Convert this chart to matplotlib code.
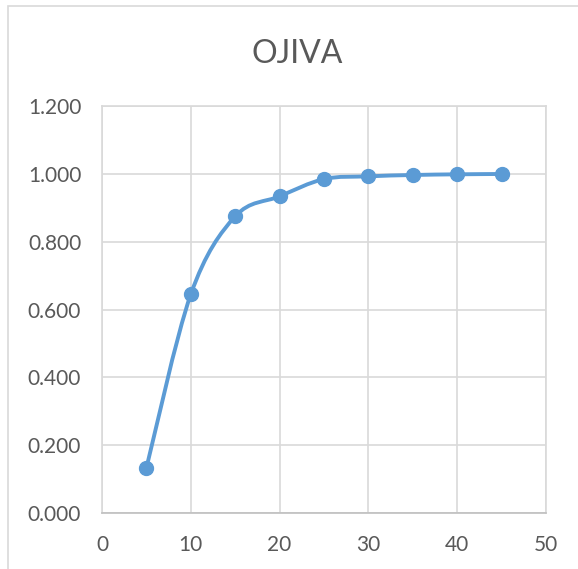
import numpy as np
import matplotlib.pyplot as plt
from matplotlib.path import Path
from matplotlib.patches import PathPatch, Rectangle

# class upper limits and cumulative relative frequency
limites = [5, 10, 15, 20, 25, 30, 35, 40, 45]
frec_acum = [0.133, 0.645, 0.875, 0.934, 0.985, 0.993, 0.997, 0.999, 1.000]

x_ticks = [0, 10, 20, 30, 40, 50]
y_ticks = [0.0, 0.2, 0.4, 0.6, 0.8, 1.0, 1.2]

azul = "#5B9BD5"
gris_txt = "#595959"
gris_grid = "#D9D9D9"

plt.rcParams["font.family"] = ["Lato", "DejaVu Sans"]

fig = plt.figure(figsize=(5.78, 5.69), dpi=100)
ax = fig.add_axes([0.1765, 0.0984, 0.768, 0.715])

# smoothed line: cubic bezier segments (Catmull-Rom style control points)
px = np.array(limites, dtype=float)
py = np.array(frec_acum, dtype=float)
n = len(px)
verts = [(px[0], py[0])]
codes = [Path.MOVETO]
for i in range(n - 1):
    i0 = max(i - 1, 0)
    i3 = min(i + 2, n - 1)
    c1 = (px[i] + (px[i + 1] - px[i0]) / 6, py[i] + (py[i + 1] - py[i0]) / 6)
    c2 = (px[i + 1] - (px[i3] - px[i]) / 6, py[i + 1] - (py[i3] - py[i]) / 6)
    verts += [c1, c2, (px[i + 1], py[i + 1])]
    codes += [Path.CURVE4] * 3
ax.add_patch(PathPatch(Path(verts, codes), facecolor="none", edgecolor=azul,
                       lw=2.8, capstyle="round", joinstyle="round", zorder=3))
ax.plot(limites, frec_acum, "o", color=azul, markersize=10, zorder=4)

ax.set_xlim(0, 50)
ax.set_ylim(0, 1.2)
ax.set_xticks(x_ticks)
ax.set_yticks(y_ticks)
ax.set_yticklabels([f"{v:.3f}" for v in y_ticks])
ax.grid(True, color=gris_grid, lw=1.2)
ax.set_axisbelow(True)
ax.tick_params(length=0, labelsize=15, labelcolor=gris_txt)
ax.tick_params(axis="x", pad=16)
ax.tick_params(axis="y", pad=15)
for s in ax.spines.values():
    s.set_color(gris_grid)
    s.set_linewidth(1.2)
ax.spines["bottom"].set_color("#BFBFBF")

fig.text(0.515, 0.905, "OJIVA", ha="center", va="center", fontsize=23, color=gris_txt)

# chart border
fig.patches.append(Rectangle((0.013, -0.01), 1.0, 0.999, transform=fig.transFigure,
                             fill=False, edgecolor=gris_grid, lw=1.2))

fig.savefig("out.png", dpi=100)
